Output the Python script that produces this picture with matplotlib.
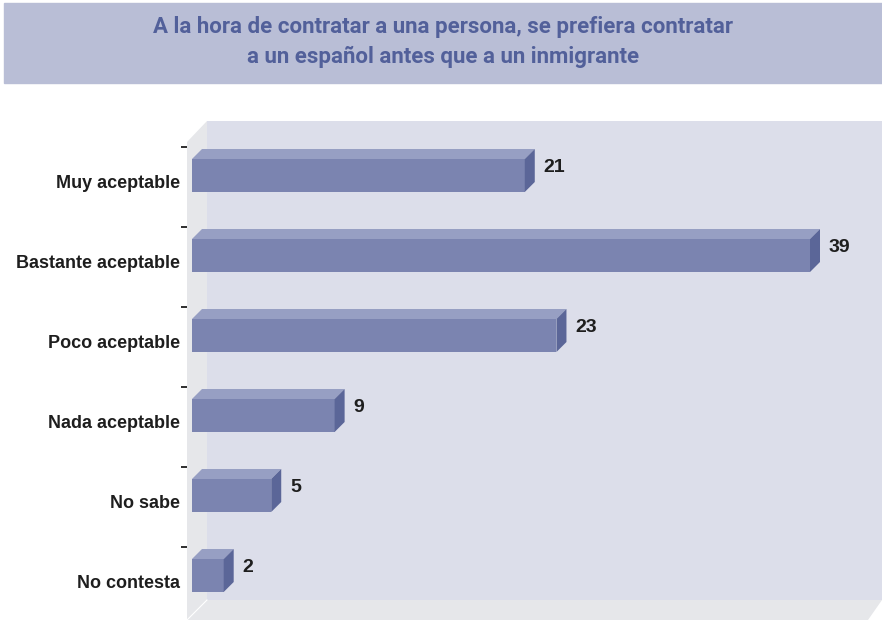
import numpy as np
import matplotlib
matplotlib.use("Agg")
import matplotlib.pyplot as plt
from matplotlib.patches import Polygon, Rectangle

# ---- data ----
categories = ["Muy aceptable", "Bastante aceptable", "Poco aceptable",
              "Nada aceptable", "No sabe", "No contesta"]
values = [21, 39, 23, 9, 5, 2]
title_lines = ["A la hora de contratar a una persona, se prefiera contratar",
               "a un español antes que a un inmigrante"]

# ---- styles ----
FRONT = "#7b84b0"
TOP = "#979fc3"
SIDE = "#5b6698"
BACK = "#dcdeea"
WALL = "#e6e7ea"
BAND = "#b9bed6"
TITLE_C = "#52609a"
TXT = "#1e1e1e"

W, H = 882, 623
fig = plt.figure(figsize=(W / 100, H / 100), dpi=100)

# title band
fig.patches.append(Rectangle((4 / W, 1 - 83 / H), 1 - 4 / W, 80 / H,
                             transform=fig.transFigure, color=BAND, zorder=0))
for k, line in enumerate(title_lines):
    fig.text(0.5 * (4 + W) / W, 1 - (27 + 30 * k) / H, line, ha="center",
             va="center", color=TITLE_C, fontsize=16, fontweight="bold",
             family="Roboto")

# plot axes: left edge at px 187, top at px 121, down to the bottom
ax = fig.add_axes([187 / W, 0, 1 - 187 / W, 1 - 121 / H])
upp = 39 / 618.0          # value units per pixel
x0 = (187 - 192) * upp
x1 = (W - 192) * upp
yt = (121 - 175.5) / 80.0
yb = (H - 175.5) / 80.0
ax.set_xlim(x0, x1)
ax.set_ylim(yb, yt)
for s in ax.spines.values():
    s.set_visible(False)
ax.set_facecolor("none")

# box: back wall, left wall, floor
bx = (207 - 192) * upp
ybk_top = yt
ybk_bot = (600 - 175.5) / 80.0
yfr_top = (142 - 175.5) / 80.0
yfr_bot = (620 - 175.5) / 80.0
ax.add_patch(Polygon([(bx, ybk_top), (x1, ybk_top), (x1, ybk_bot), (bx, ybk_bot)],
                     closed=True, color=BACK, lw=0, zorder=1))
ax.add_patch(Polygon([(x0, yfr_top), (bx, ybk_top), (bx, ybk_bot), (x0, yfr_bot)],
                     closed=True, color=WALL, lw=0, zorder=1))
ax.add_patch(Polygon([(x0, yfr_bot), (bx, ybk_bot), (x1, ybk_bot),
                      (x1 - 14 * upp, yfr_bot)],
                     closed=True, color=WALL, lw=0, zorder=1))
ax.plot([x0, bx], [yfr_bot, ybk_bot], color="white", lw=0.8, zorder=2)

# 3d bars
idx = np.arange(len(categories))
h = 33 / 80.0
dx = 10 * upp
dy = 10 / 80.0
ax.barh(idx, values, height=h, color=FRONT, lw=0, zorder=3)
for i, v in zip(idx, values):
    top = i - h / 2
    bot = i + h / 2
    ax.add_patch(Polygon([(0, top), (dx, top - dy), (v + dx, top - dy), (v, top)],
                         closed=True, color=TOP, lw=0, zorder=3))
    ax.add_patch(Polygon([(v, top), (v + dx, top - dy), (v + dx, bot - dy), (v, bot)],
                         closed=True, color=SIDE, lw=0, zorder=3))
    ax.text(v + dx + 9 * upp, i - 0.1, str(v), ha="left", va="center",
            fontsize=14, fontweight="bold", color=TXT, family="Liberation Sans",
            zorder=4)

# axis ticks and labels
ax.set_xticks([])
ax.set_yticks(idx + 0.07)
ax.set_yticklabels(categories, fontsize=13, fontweight="bold", color=TXT,
                   family="Liberation Sans")
ax.tick_params(axis="y", which="major", length=0, pad=5)
ax.set_yticks(idx - 29 / 80.0, minor=True)
ax.tick_params(axis="y", which="minor", length=4.5, width=1.3, color=TXT)

fig.savefig("out.png", dpi=100)
